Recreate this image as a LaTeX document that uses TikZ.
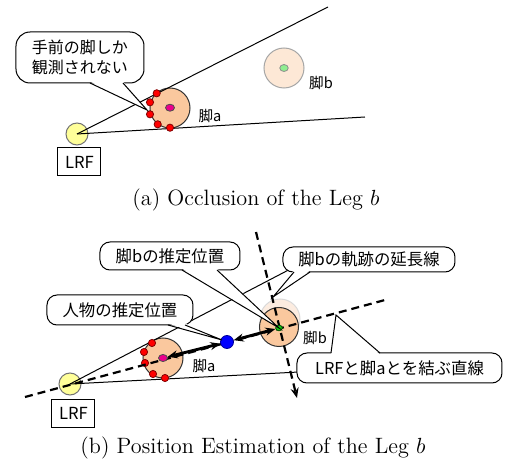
\documentclass[tikz,border=0pt]{standalone}
\usepackage{fontspec}
\newfontfamily\jpfont{Noto Sans CJK JP}
\usetikzlibrary{arrows.meta,shapes.geometric}
\definecolor{legpeach}{RGB}{250,200,158}
\definecolor{legfade}{RGB}{253,232,214}
\definecolor{legfadeB}{RGB}{252,236,224}
\definecolor{lrfyellow}{RGB}{255,255,153}
\definecolor{dotgreen}{RGB}{144,238,144}
\definecolor{dotgreenB}{RGB}{20,200,20}
\begin{document}
\begin{tikzpicture}[x=0.5pt,y=-0.5pt,
  thinline/.style={line width=0.5pt},
  dashline/.style={line width=1.1pt,dash pattern=on 4pt off 2.5pt},
  thickarr/.style={line width=1.4pt,{Stealth[length=5pt,width=4pt]}-{Stealth[length=5pt,width=4pt]}},
  lrfc/.style={circle,draw=black!55,fill=lrfyellow,line width=0.5pt,inner sep=0,minimum size=11pt},
  lrfbox/.style={rectangle,draw,line width=0.5pt,fill=white,inner sep=0,minimum width=21.5pt,minimum height=14pt,font=\jpfont\fontsize{8.3}{9}\selectfont},
  legc/.style={circle,draw=black!80,fill=legpeach,line width=0.5pt,inner sep=0,minimum size=20pt},
  fadec/.style={circle,draw=black!35,fill=legfade,line width=0.5pt,inner sep=0,minimum size=20pt},
  fadecB/.style={circle,draw=black!15,fill=legfadeB,line width=0.5pt,inner sep=0,minimum size=20pt},
  reddot/.style={circle,draw=red!50!black,fill=red,line width=0.4pt,inner sep=0,minimum size=3.6pt},
  magdot/.style={ellipse,draw=black!70,fill=magenta,line width=0.4pt,inner sep=0,minimum width=4.5pt,minimum height=3.5pt},
  grndot/.style={ellipse,draw=black!45,fill=dotgreen,line width=0.4pt,inner sep=0,minimum width=4.2pt,minimum height=3.5pt},
  grndotB/.style={ellipse,draw=green!30!black,fill=dotgreenB,line width=0.4pt,inner sep=0,minimum width=3.4pt,minimum height=2.8pt},
  bluedot/.style={circle,draw=blue!60!black,fill=blue,line width=0.4pt,inner sep=0,minimum size=6.5pt},
  leglabel/.style={inner sep=0,font=\jpfont\fontsize{7.3}{8}\selectfont},
  callout/.style={rectangle,draw,fill=white,line width=0.5pt,rounded corners=5pt,inner sep=0,align=center,font=\jpfont\fontsize{8.2}{10}\selectfont},
  tailline/.style={line width=0.5pt},
  caption/.style={inner sep=0,font=\fontsize{11.1}{13}\selectfont}
]
\useasboundingbox (0,0) rectangle (505,465);

% ================= panel (a) =================
\node[lrfc] (lrfA) at (77,134) {};
\node[lrfbox] (lrfboxA) at (79.5,162) {LRF};
\node[legc] (legaA) at (170,108) {};
\node[fadec] (legbA) at (284,68) {};
\coordinate (endA1) at (328,7);
\coordinate (endA2) at (365,117);
\draw[thinline] (lrfA.center) -- (endA1);
\draw[thinline] (lrfA.center) -- (endA2);
\node[reddot] (rA1) at (156.7,93.3) {};
\node[reddot] (rA2) at (150,102.3) {};
\node[reddot] (rA3) at (150,114.3) {};
\node[reddot] (rA4) at (157.7,124.3) {};
\node[reddot] (rA5) at (170,127.7) {};
\node[magdot] (magA) at (170,107.7) {};
\node[grndot] (grnA) at (284,68) {};
\node[leglabel] (labaA) at (210,116) {脚a};
\node[leglabel] (labbA) at (321,83) {脚b};
% callout (a)
\node[callout,rounded corners=7pt,minimum width=64pt,minimum height=25.5pt,font=\jpfont\fontsize{8}{10}\selectfont] (calA) at (80,57.5) {手前の脚しか\\観測されない};
\coordinate (tipA) at (147,110);
\coordinate (tA1) at (90,83);
\coordinate (tA2) at (123,83);
\fill[white] (90,81.5) -- (tipA) -- (123,81.5) -- cycle;
\draw[tailline] (tA1) -- (tipA) -- (tA2);
\node[caption] (capA) at (256,200) {(a) Occlusion of the Leg $b$};

% ================= panel (b) =================
\node[lrfc] (lrfB) at (70,384) {};
\node[lrfbox] (lrfboxB) at (73.5,413.5) {LRF};
\node[legc] (legaB) at (163,358) {};
\node[fadecB] (legbfB) at (280,319) {};
\node[legc,minimum size=19.5pt] (legbB) at (279,327) {};
\coordinate (endB1) at (300,264);
\coordinate (endB2) at (299,372);
\draw[thinline] (lrfB.center) -- (endB1);
\draw[thinline] (lrfB.center) -- (endB2);
\node[reddot] (rB1) at (152,343) {};
\node[reddot] (rB2) at (144,352) {};
\node[reddot] (rB3) at (145,363) {};
\node[reddot] (rB4) at (153,374) {};
\node[reddot] (rB5) at (165,378) {};
% dashed lines
\coordinate (dS) at (25,397);
\coordinate (dE) at (385,300);
\draw[dashline] (dS) -- (dE);
\coordinate (vS) at (256,232);
\coordinate (vE) at (297,398);
\draw[dashline,-{Stealth[length=5pt,width=4pt]}] (vS) -- (vE);
\node[magdot] (magB) at (163,358) {};
\node[grndotB] (grnB) at (279,328) {};
\node[bluedot] (blueB) at (227,342) {};
\draw[thickarr] (magB) -- (blueB);
\draw[thickarr] (blueB) -- (grnB);
\node[leglabel] (labaB) at (204,366) {脚a};
\node[leglabel] (labbB) at (315,338) {脚b};
% callouts (b)
\node[callout,minimum width=70pt,minimum height=14pt] (calB1) at (170,256) {脚bの推定位置};
\coordinate (tB1a) at (182,270);
\coordinate (tB1b) at (217,270);
\fill[white] (182,268.5) -- (grnB.center) -- (217,268.5) -- cycle;
\draw[tailline] (tB1a) -- (grnB.center) -- (tB1b);

\node[callout,minimum width=73pt,minimum height=15pt] (calB2) at (120,310) {人物の推定位置};
\coordinate (tipB2) at (222,340);
\coordinate (tB2a) at (168,325);
\coordinate (tB2b) at (185,325);
\fill[white] (168,323.5) -- (tipB2) -- (185,323.5) -- cycle;
\draw[tailline] (tB2a) -- (tipB2) -- (tB2b);

\node[callout,minimum width=86pt,minimum height=12.5pt] (calB3) at (369,259.5) {脚bの軌跡の延長線};
\coordinate (tipB3) at (273,297);
\coordinate (tB3a) at (294,272);
\coordinate (tB3b) at (310,272);
\fill[white] (294,270.5) -- (tipB3) -- (310,270.5) -- cycle;
\draw[tailline] (tB3a) -- (tipB3) -- (tB3b);

\node[callout,minimum width=102.5pt,minimum height=15pt] (calB4) at (399.5,368) {LRFと脚aとを結ぶ直線};
\coordinate (tipB4) at (336,315);
\coordinate (tB4a) at (331,353);
\coordinate (tB4b) at (380,353);
\fill[white] (331,354.5) -- (tipB4) -- (380,354.5) -- cycle;
\draw[tailline] (tB4a) -- (tipB4) -- (tB4b);

\node[caption] (capB) at (253,448) {(b) Position Estimation of the Leg $b$};
\end{tikzpicture}
\end{document}
